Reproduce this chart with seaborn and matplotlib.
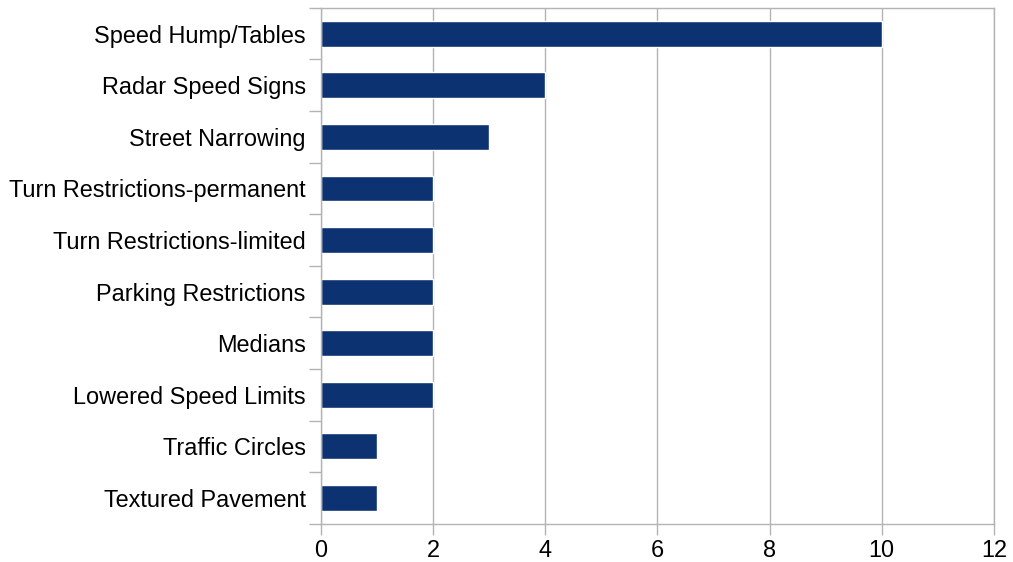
import matplotlib
matplotlib.use("Agg")
import matplotlib.pyplot as plt
import numpy as np
import pandas as pd
import seaborn as sns

MEASURES = [
    "Speed Hump/Tables",
    "Radar Speed Signs",
    "Street Narrowing",
    "Turn Restrictions-permanent",
    "Turn Restrictions-limited",
    "Parking Restrictions",
    "Medians",
    "Lowered Speed Limits",
    "Traffic Circles",
    "Textured Pavement",
]
COUNTS = [10, 4, 3, 2, 2, 2, 2, 2, 1, 1]
X_TICKS = [0, 2, 4, 6, 8, 10, 12]

BAR_COLOR = "#0d3271"
GRID_COLOR = "#b3b3b3"

sns.set_theme(style="white")
plt.rcParams["font.family"] = ["Liberation Sans", "DejaVu Sans"]

df = pd.DataFrame({"measure": MEASURES, "count": COUNTS})

fig, ax = plt.subplots(figsize=(10.13, 5.62), dpi=100)
fig.subplots_adjust(left=0.317, right=0.981, top=0.986, bottom=0.068)

sns.barplot(data=df, y="measure", x="count", orient="h", color=BAR_COLOR,
            saturation=1, width=0.5, ax=ax)

ax.set_xlim(0, 12)
ax.set_ylim(len(MEASURES) - 0.5, -0.5)
ax.set_xticks(X_TICKS)
ax.set_xticklabels([str(t) for t in X_TICKS], fontsize=16.9, color="black")
ax.tick_params(axis="y", which="major", length=0, pad=11, labelsize=16.9,
               labelcolor="black")
ax.set_yticks(np.arange(-0.5, len(MEASURES)), minor=True)
ax.tick_params(axis="y", which="minor", length=9, width=1, color=GRID_COLOR, left=True)
ax.tick_params(axis="x", which="major", length=8, width=1, color=GRID_COLOR,
               bottom=True, pad=3)
ax.xaxis.grid(True, color=GRID_COLOR, linewidth=1)
ax.set_axisbelow(True)
for spine in ax.spines.values():
    spine.set_color(GRID_COLOR)
    spine.set_linewidth(1)
ax.set_xlabel("")
ax.set_ylabel("")

fig.savefig("out.png", dpi=100, facecolor="white")
